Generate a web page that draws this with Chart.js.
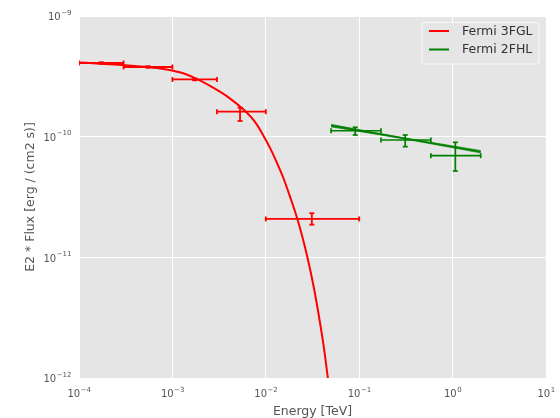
<!DOCTYPE html>
<html><head><meta charset="utf-8">
<script src="https://cdn.jsdelivr.net/npm/chart.js@4.4.1/dist/chart.umd.min.js"></script>
<style>html,body{margin:0;padding:0;background:#fff;}#wrap{width:560px;height:418px;position:relative;}</style>
</head><body><div id="wrap"><canvas id="c" width="560" height="418"></canvas></div>
<script>
// ---- tick labels ----
const xTicks = [1e-4, 1e-3, 1e-2, 1e-1, 1e0, 1e1];
const xTickExp = ['\u22124', '\u22123', '\u22122', '\u22121', '0', '1'];
const yTicks = [1e-12, 1e-11, 1e-10, 1e-9];
const yTickExp = ['\u221212', '\u221211', '\u221210', '\u22129'];

// ---- Fermi 3FGL model curve ----
const fglCurveE = [1.0e-4, 1.68e-4, 2.87e-4, 5.10e-4, 7.38e-4, 9.92e-4, 1.37e-3, 1.75e-3, 2.53e-3, 3.82e-3,
  5.76e-3, 7.69e-3, 9.43e-3, 1.11e-2, 1.31e-2, 1.55e-2, 1.82e-2, 2.15e-2, 2.43e-2, 2.75e-2,
  3.24e-2, 3.66e-2, 4.15e-2, 4.62e-2, 4.83e-2];
const fglCurveF = [4.12e-10, 4.03e-10, 3.93e-10, 3.79e-10, 3.67e-10, 3.53e-10, 3.31e-10, 3.06e-10, 2.64e-10, 2.17e-10,
  1.68e-10, 1.32e-10, 1.02e-10, 8.07e-11, 6.13e-11, 4.50e-11, 3.17e-11, 2.15e-11, 1.54e-11, 1.05e-11,
  5.81e-12, 3.44e-12, 1.87e-12, 1.00e-12, 7.66e-13];

// ---- Fermi 3FGL flux points ----
const fglE   = [1.73e-4, 5.48e-4, 1.73e-3, 5.3e-3, 3.11e-2];
const fglElo = [1e-4, 3e-4, 1e-3, 3e-3, 1e-2];
const fglEhi = [3e-4, 1e-3, 3e-3, 1e-2, 1e-1];
const fglF   = [4.08e-10, 3.78e-10, 2.98e-10, 1.61e-10, 2.08e-11];
const fglFlo = [4.02e-10, 3.72e-10, 2.93e-10, 1.35e-10, 1.865e-11];
const fglFhi = [4.14e-10, 3.84e-10, 3.03e-10, 1.74e-10, 2.32e-11];

// ---- Fermi 2FHL model + band ----
const fhlCurveE = [0.05, 0.3, 2.0];
const fhlCurveF = [1.235e-10, 9.69e-11, 7.5e-11];
const fhlBandHi = [1.266e-10, 9.79e-11, 7.69e-11];
const fhlBandLo = [1.205e-10, 9.59e-11, 7.32e-11];

// ---- Fermi 2FHL flux points ----
const fhlE   = [0.0906, 0.311, 1.07];
const fhlElo = [0.05, 0.171, 0.585];
const fhlEhi = [0.171, 0.585, 2.0];
const fhlF   = [1.12e-10, 9.38e-11, 6.96e-11];
const fhlFlo = [1.032e-10, 8.26e-11, 5.19e-11];
const fhlFhi = [1.196e-10, 1.032e-10, 8.98e-11];

const RED = '#ff0000', GREEN = '#008000';
const FONT = '"DejaVu Sans", "Liberation Sans", sans-serif';

function pts(xs, ys) { return xs.map((x, i) => ({x: x, y: ys[i]})); }
function xErr(lo, hi, y) { const d = []; lo.forEach((l, i) => { d.push({x: l, y: y[i]}, {x: hi[i], y: y[i]}, {x: hi[i], y: null}); }); return d; }
function yErr(x, lo, hi) { const d = []; x.forEach((v, i) => { d.push({x: v, y: lo[i]}, {x: v, y: hi[i]}, {x: v, y: null}); }); return d; }

function errSet(data, color, rot, w) {
  return {data: data, showLine: true, spanGaps: false, borderColor: color, borderWidth: w,
    pointStyle: 'line', pointRotation: rot, pointRadius: 2.5, pointBorderWidth: w,
    pointBorderColor: color, pointBackgroundColor: color, pointHoverRadius: 2.5, fill: false};
}

const datasets = [
  errSet(xErr(fglElo, fglEhi, fglF), RED, 90, 1.8),
  errSet(yErr(fglE, fglFlo, fglFhi), RED, 0, 1.8),
  {data: pts(fglCurveE, fglCurveF), showLine: true, borderColor: RED, borderWidth: 2, pointRadius: 0, fill: false,
    cubicInterpolationMode: 'monotone'},
  {data: pts(fhlCurveE, fhlBandHi), showLine: true, borderColor: 'rgba(0,128,0,0.7)', borderWidth: 0.8, pointRadius: 0, fill: '+1', backgroundColor: 'rgba(0,128,0,0.65)'},
  {data: pts(fhlCurveE, fhlBandLo), showLine: true, borderColor: 'rgba(0,128,0,0.7)', borderWidth: 0.8, pointRadius: 0, fill: false},
  {data: pts(fhlCurveE, fhlCurveF), showLine: true, borderColor: GREEN, borderWidth: 1.6, pointRadius: 0, fill: false},
  errSet(xErr(fhlElo, fhlEhi, fhlF), GREEN, 90, 1.7),
  errSet(yErr(fhlE, fhlFlo, fhlFhi), GREEN, 0, 1.7)
];

const decor = {
  id: 'decor',
  beforeDraw(chart) {
    const {ctx, chartArea: a} = chart;
    ctx.save();
    ctx.fillStyle = '#e5e5e5';
    ctx.fillRect(a.left, a.top, a.right - a.left, a.bottom - a.top);
    ctx.restore();
  },
  afterDraw(chart) {
    const {ctx, chartArea: a, scales} = chart;
    ctx.save();
    ctx.fillStyle = '#555555';
    xTicks.forEach((v, i) => {
      const px = scales.x.getPixelForValue(v);
      ctx.font = '10px ' + FONT;
      const w1 = ctx.measureText('10').width;
      ctx.font = '7px ' + FONT;
      const w2 = ctx.measureText(xTickExp[i]).width;
      const s = px - (w1 + w2) / 2;
      ctx.textBaseline = 'alphabetic'; ctx.textAlign = 'left';
      ctx.font = '10px ' + FONT; ctx.fillText('10', s, 396.5);
      ctx.font = '7px ' + FONT; ctx.fillText(xTickExp[i], s + w1 + 0.5, 391.5);
    });
    yTicks.forEach((v, i) => {
      const py = scales.y.getPixelForValue(v);
      ctx.font = '10px ' + FONT;
      const w1 = ctx.measureText('10').width;
      ctx.font = '7px ' + FONT;
      const w2 = ctx.measureText(yTickExp[i]).width;
      const s = 71.5 - (w1 + w2 + 0.5);
      ctx.textBaseline = 'alphabetic'; ctx.textAlign = 'left';
      ctx.font = '10px ' + FONT; ctx.fillText('10', s, py + 4.3);
      ctx.font = '7px ' + FONT; ctx.fillText(yTickExp[i], s + w1 + 0.5, py - 1.2);
    });
    ctx.font = '12.5px ' + FONT;
    ctx.textAlign = 'center'; ctx.textBaseline = 'middle';
    ctx.fillText('Energy [TeV]', (a.left + a.right) / 2, 412);
    ctx.translate(31, (a.top + a.bottom) / 2);
    ctx.rotate(-Math.PI / 2);
    ctx.fillText('E2 * Flux [erg / (cm2 s)]', 0, 0);
    ctx.restore();

    ctx.save();
    const lx = 422, ly = 22.5, lw = 117, lh = 41.5;
    ctx.fillStyle = '#e5e5e5';
    ctx.strokeStyle = 'rgba(255,255,255,0.75)';
    ctx.lineWidth = 1;
    ctx.beginPath();
    if (ctx.roundRect) ctx.roundRect(lx, ly, lw, lh, 2); else ctx.rect(lx, ly, lw, lh);
    ctx.fill(); ctx.stroke();
    const items = [['Fermi 3FGL', RED, 31], ['Fermi 2FHL', GREEN, 49.5]];
    items.forEach(([t, c, y]) => {
      ctx.strokeStyle = c; ctx.lineWidth = 2;
      ctx.beginPath(); ctx.moveTo(429, y); ctx.lineTo(449, y); ctx.stroke();
      ctx.fillStyle = '#333333';
      ctx.font = '12.5px ' + FONT;
      ctx.textAlign = 'left'; ctx.textBaseline = 'middle';
      ctx.fillText(t, 462, y + 0.5);
    });
    ctx.restore();
  }
};

const decadeTicks = (vals) => (scale) => { scale.ticks = vals.map(v => ({value: v})); };

new Chart(document.getElementById('c'), {
  type: 'scatter',
  data: {datasets: datasets},
  options: {
    responsive: false, animation: false, devicePixelRatio: 1,
    layout: {padding: {left: 79, right: 14, top: 16, bottom: 40}},
    plugins: {legend: {display: false}, tooltip: {enabled: false}},
    events: [],
    scales: {
      x: {type: 'logarithmic', min: 1e-4, max: 10, afterBuildTicks: decadeTicks(xTicks),
        ticks: {display: false}, grid: {color: '#ffffff', lineWidth: 1, drawTicks: false}, border: {display: false}},
      y: {type: 'logarithmic', min: 1e-12, max: 1e-9, afterBuildTicks: decadeTicks(yTicks),
        ticks: {display: false}, grid: {color: '#ffffff', lineWidth: 1, drawTicks: false}, border: {display: false}}
    }
  },
  plugins: [decor]
});
</script></body></html>
